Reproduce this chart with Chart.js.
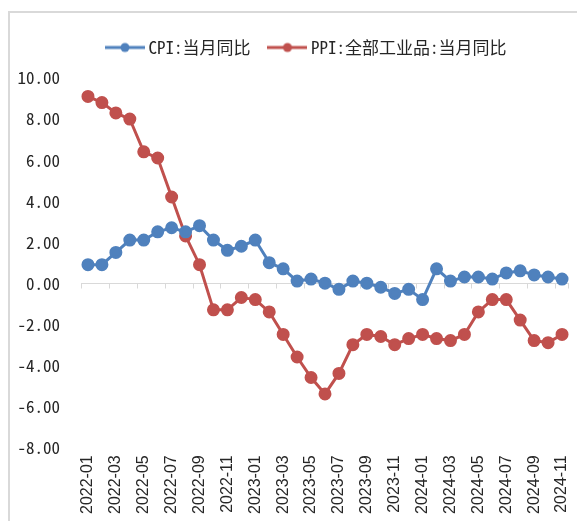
<!DOCTYPE html>
<html>
<head>
<meta charset="utf-8">
<script src="https://cdn.jsdelivr.net/npm/chart.js@4.4.1/dist/chart.umd.min.js"></script>
<style>
  html, body { margin: 0; padding: 0; background: #ffffff; }
  #wrap { position: relative; width: 577px; height: 521px; overflow: hidden; }
  #frame { position: absolute; left: 8px; top: 11px; width: 700px; height: 700px;
           border-left: 2px solid #d9d9d9; border-top: 2px solid #d9d9d9; }
  #c { position: absolute; left: 0; top: 0; }
</style>
</head>
<body>
<div id="wrap">
  <div id="frame"></div>
  <canvas id="c" width="577" height="521"></canvas>
</div>
<script>
const categories = [
  "2022-01","2022-02","2022-03","2022-04","2022-05","2022-06","2022-07","2022-08","2022-09","2022-10","2022-11","2022-12",
  "2023-01","2023-02","2023-03","2023-04","2023-05","2023-06","2023-07","2023-08","2023-09","2023-10","2023-11","2023-12",
  "2024-01","2024-02","2024-03","2024-04","2024-05","2024-06","2024-07","2024-08","2024-09","2024-10","2024-11"
];
const cpiValues = [
  0.9, 0.9, 1.5, 2.1, 2.1, 2.5, 2.7, 2.5, 2.8, 2.1, 1.6, 1.8,
  2.1, 1.0, 0.7, 0.1, 0.2, 0.0, -0.3, 0.1, 0.0, -0.2, -0.5, -0.3,
  -0.8, 0.7, 0.1, 0.3, 0.3, 0.2, 0.5, 0.6, 0.4, 0.3, 0.2
];
const ppiValues = [
  9.1, 8.8, 8.3, 8.0, 6.4, 6.1, 4.2, 2.3, 0.9, -1.3, -1.3, -0.7,
  -0.8, -1.4, -2.5, -3.6, -4.6, -5.4, -4.4, -3.0, -2.5, -2.6, -3.0, -2.7,
  -2.5, -2.7, -2.8, -2.5, -1.4, -0.8, -0.8, -1.8, -2.8, -2.9, -2.5
];
const seriesNames = ["CPI:当月同比", "PPI:全部工业品:当月同比"];
const yTicks = { min: -8, max: 10, step: 2 };

const BLUE = "#4F81BD";
const RED = "#C0504D";
const CJK = '"Noto Sans Mono CJK SC", "Noto Sans CJK SC", sans-serif';

function legendIcon(color) {
  const cv = document.createElement("canvas");
  cv.width = 40; cv.height = 12;
  const g = cv.getContext("2d");
  g.strokeStyle = color; g.lineWidth = 3;
  g.beginPath(); g.moveTo(0, 6); g.lineTo(40, 6); g.stroke();
  g.fillStyle = color;
  g.beginPath(); g.arc(20, 6, 4.5, 0, Math.PI * 2); g.fill();
  return cv;
}

const zeroAxis = {
  id: "zeroAxis",
  beforeDatasetsDraw(chart) {
    const { ctx, chartArea: a, scales: { x, y } } = chart;
    const y0 = Math.round(y.getPixelForValue(0)) + 0.5;
    const step = x.getPixelForValue(1) - x.getPixelForValue(0);
    ctx.save();
    ctx.strokeStyle = "#d9d9d9";
    ctx.lineWidth = 1;
    ctx.beginPath();
    ctx.moveTo(a.left, y0); ctx.lineTo(a.right, y0);
    for (let i = 0; i < categories.length; i += 2) {
      const px = Math.round(x.getPixelForValue(i) - step / 2) + 0.5;
      ctx.moveTo(px, y0); ctx.lineTo(px, y0 + 5);
    }
    const pe = Math.round(x.getPixelForValue(categories.length - 1) + step / 2) - 0.5;
    ctx.moveTo(pe, y0); ctx.lineTo(pe, y0 + 5);
    ctx.stroke();
    ctx.restore();
  }
};

const legendTweak = {
  id: "legendTweak",
  beforeUpdate(chart) {
    const lg = chart.legend;
    if (lg && !lg._patched) {
      const fit = lg.fit;
      lg.fit = function () { fit.call(this); this.height += 12; };
      lg._patched = true;
    }
  },
  afterLayout(chart) {
    if (chart.legend) chart.legend.left = 88;
  }
};

new Chart(document.getElementById("c"), {
  type: "line",
  data: {
    labels: categories,
    datasets: [
      { label: seriesNames[0], data: cpiValues, borderColor: BLUE, backgroundColor: BLUE,
        borderWidth: 3, pointRadius: 5, pointBackgroundColor: BLUE, pointBorderColor: BLUE, tension: 0 },
      { label: seriesNames[1], data: ppiValues, borderColor: RED, backgroundColor: RED,
        borderWidth: 3, pointRadius: 5, pointBackgroundColor: RED, pointBorderColor: RED, tension: 0 }
    ]
  },
  options: {
    responsive: false,
    animation: false,
    devicePixelRatio: 1,
    layout: { padding: { top: 17, left: 17.5, right: 8, bottom: 7 } },
    plugins: {
      tooltip: { enabled: false },
      legend: {
        position: "top",
        align: "start",
        labels: {
          usePointStyle: true,
          pointStyleWidth: 30,
          padding: 22,
          color: "#262626",
          font: { family: CJK, size: 17 },
          generateLabels(chart) {
            return chart.data.datasets.map((ds, i) => ({
              text: ds.label,
              fillStyle: ds.borderColor,
              strokeStyle: ds.borderColor,
              fontColor: "#262626",
              lineWidth: 0,
              pointStyle: legendIcon(ds.borderColor),
              hidden: false,
              datasetIndex: i
            }));
          }
        }
      }
    },
    scales: {
      x: {
        offset: true,
        grid: { display: false, drawTicks: false },
        border: { display: false },
        afterFit(scale) { scale.height -= 8; scale.paddingLeft = 0; scale.paddingRight = 0; },
        ticks: {
          autoSkip: false,
          minRotation: 90,
          maxRotation: 90,
          padding: 8,
          color: "#262626",
          font: { family: '"Liberation Sans", sans-serif', size: 16 },
          callback: (v, i) => (i % 2 === 0 ? categories[i] : "")
        }
      },
      y: {
        min: yTicks.min,
        max: yTicks.max,
        grid: { display: false, drawTicks: false },
        border: { display: false },
        afterFit(scale) { scale.width -= 21; },
        ticks: {
          stepSize: yTicks.step,
          padding: 21,
          color: "#262626",
          font: { family: CJK, size: 17 },
          callback: v => Number(v).toFixed(2)
        }
      }
    }
  },
  plugins: [zeroAxis, legendTweak]
});
</script>
</body>
</html>
